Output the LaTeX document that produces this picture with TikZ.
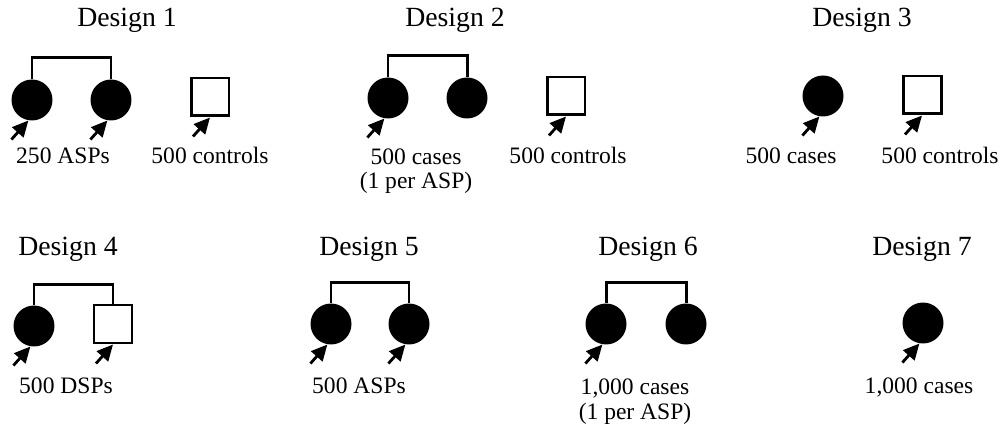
\documentclass[tikz,border=0pt]{standalone}
\usepackage{fontspec}
\setmainfont{Liberation Serif}
\usetikzlibrary{calc,arrows.meta}

\tikzset{
  affected/.style={circle, fill=black, minimum size=0.82cm, inner sep=0pt},
  control/.style={rectangle, draw=black, fill=white, line width=1.7pt, minimum size=0.76cm, inner sep=0pt},
  sibbar/.style={line width=1.7pt},
  proband/.style={-{Triangle[length=0.32cm,width=0.3cm]}, line width=1.6pt},
  design/.style={anchor=base, font=\fontsize{15.8}{18}\selectfont},
  count/.style={anchor=base, align=center, font=\fontsize{13.4}{14.2}\selectfont}
}

\begin{document}
\begin{tikzpicture}[x=0.02cm, y=-0.02cm]
\useasboundingbox (0,0) rectangle (1000,428);

% design 1
\node[design] (t1) at (127,27) {Design 1};
\node[affected] (a1) at (32,100) {};
\node[affected] (a2) at (111,100) {};
\node[control] (s1) at (210,97) {};
\draw[sibbar] (a1.north) -- ++(0,-22) -| (a2.north);
\draw[proband] ($(a1.-100)+(-17,19)$) -- (a1.-100);
\draw[proband] ($(a2.-100)+(-17,19)$) -- (a2.-100);
\draw[proband] ($(s1.south)+(-17,19)$) -- (s1.south);
\node[count] (l1) at (63,164) {250 ASPs};
\node[count] (l2) at (210,164) {500 controls};

% design 2
\node[design] (t2) at (455,27) {Design 2};
\node[affected] (b1) at (388,98) {};
\node[affected] (b2) at (467,98) {};
\node[control] (s2) at (566,96) {};
\draw[sibbar] (b1.north) -- ++(0,-22) -| (b2.north);
\draw[proband] ($(b1.-100)+(-17,19)$) -- (b1.-100);
\draw[proband] ($(s2.south)+(-17,19)$) -- (s2.south);
\node[count] (l3) at (416,189) {500 cases\\(1 per ASP)};
\node[count] (l4) at (568,164) {500 controls};

% design 3
\node[design] (t3) at (862,27) {Design 3};
\node[affected] (c1) at (823,96) {};
\node[control] (s3) at (922,95) {};
\draw[proband] ($(c1.-100)+(-17,19)$) -- (c1.-100);
\draw[proband] ($(s3.south)+(-17,19)$) -- (s3.south);
\node[count] (l5) at (791,164) {500 cases};
\node[count] (l6) at (940,164) {500 controls};

% design 4
\node[design] (t4) at (68,256) {Design 4};
\node[affected] (d1) at (34,326) {};
\node[control] (s4) at (113,324) {};
\draw[sibbar] (d1.north) -- ++(0,-21) -| (s4.north);
\draw[proband] ($(d1.-100)+(-17,19)$) -- (d1.-100);
\draw[proband] ($(s4.south)+(-17,19)$) -- (s4.south);
\node[count] (l7) at (66,394) {500 DSPs};

% design 5
\node[design] (t5) at (369,256) {Design 5};
\node[affected] (e1) at (331,324) {};
\node[affected] (e2) at (409,324) {};
\draw[sibbar] (e1.north) -- ++(0,-21) -| (e2.north);
\draw[proband] ($(e1.-100)+(-17,19)$) -- (e1.-100);
\draw[proband] ($(e2.-100)+(-17,19)$) -- (e2.-100);
\node[count] (l8) at (359,394) {500 ASPs};

% design 6
\node[design] (t6) at (648,256) {Design 6};
\node[affected] (f1) at (606,324) {};
\node[affected] (f2) at (686,324) {};
\draw[sibbar] (f1.north) -- ++(0,-21) -| (f2.north);
\draw[proband] ($(f1.-100)+(-17,19)$) -- (f1.-100);
\node[count] (l9) at (635,419) {1,000 cases\\(1 per ASP)};

% design 7
\node[design] (t7) at (922,256) {Design 7};
\node[affected] (g1) at (923,323) {};
\draw[proband] ($(g1.-100)+(-17,19)$) -- (g1.-100);
\node[count] (l10) at (919,394) {1,000 cases};
\end{tikzpicture}
\end{document}
